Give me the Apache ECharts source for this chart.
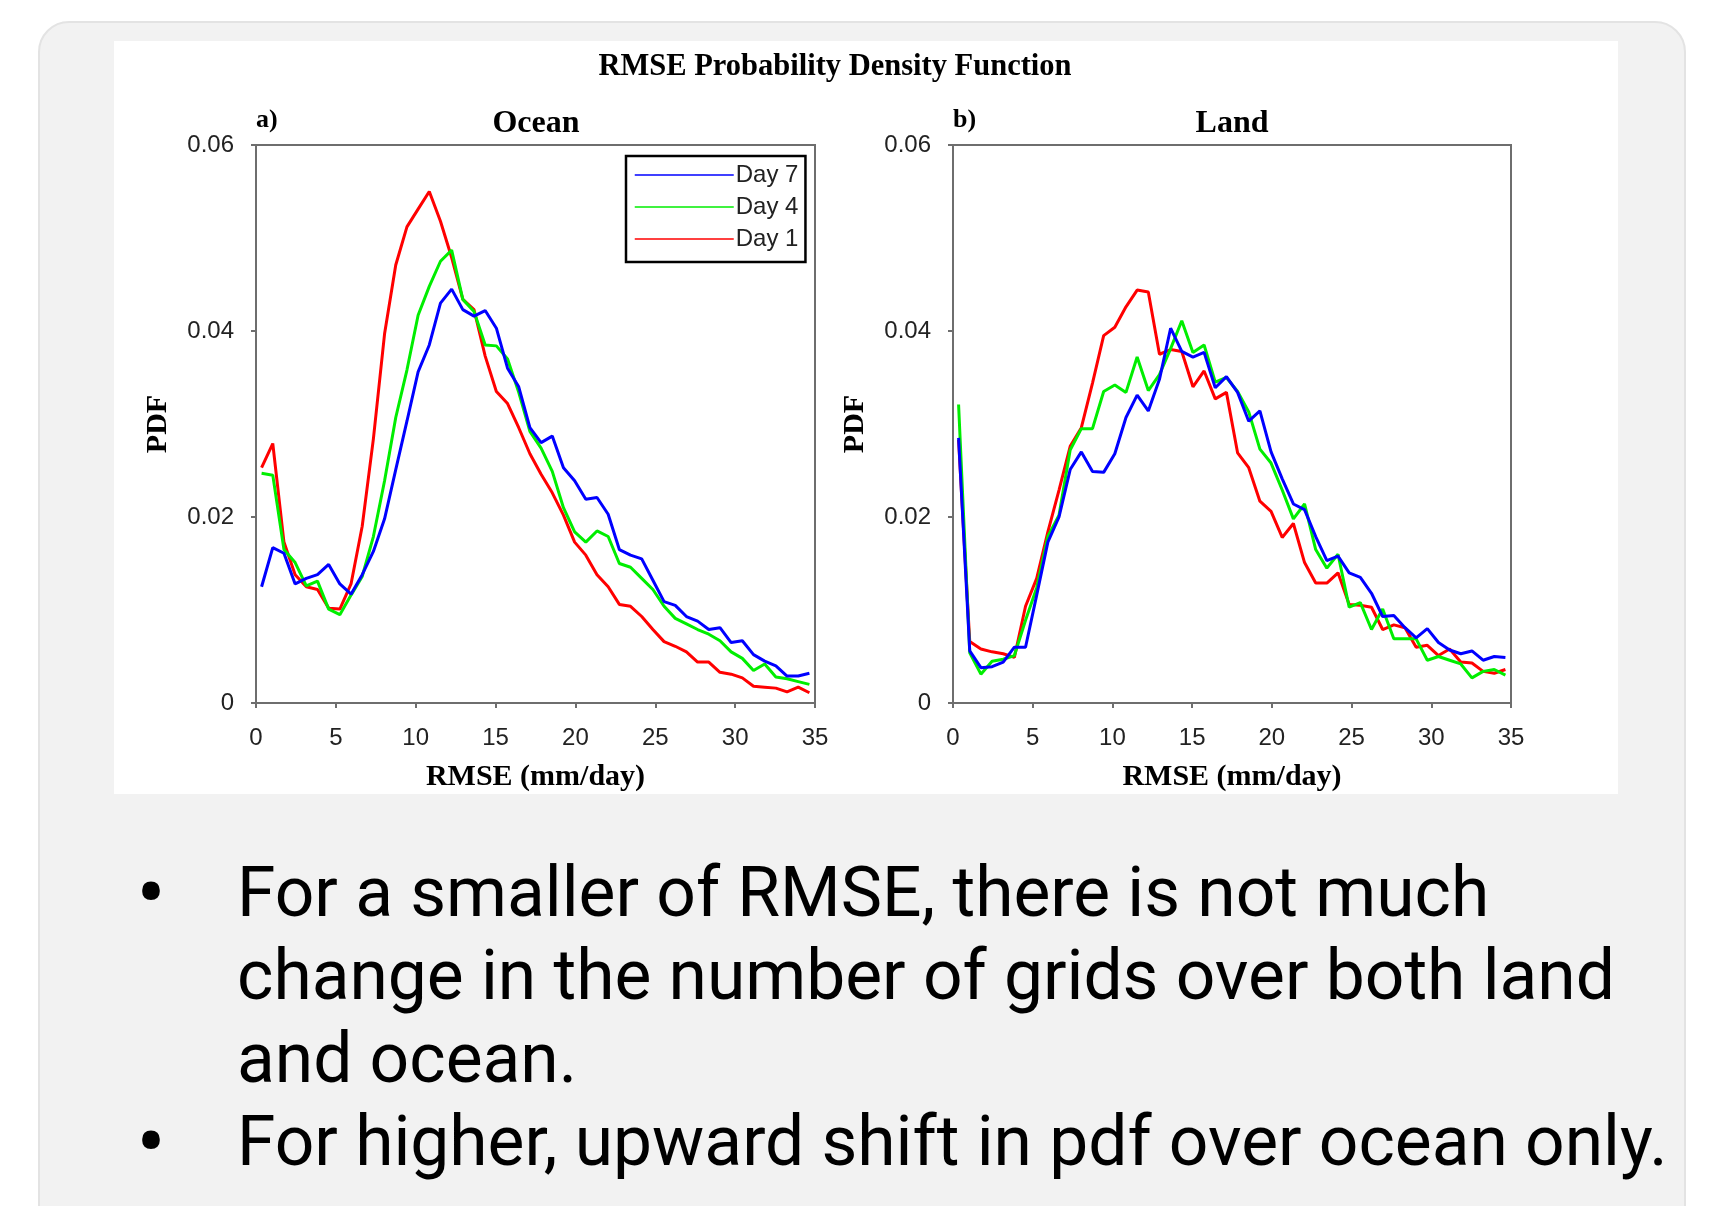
<!DOCTYPE html>
<html>
<head>
<meta charset="utf-8">
<script src="https://cdn.jsdelivr.net/npm/echarts@6/dist/echarts.min.js"></script>
<style>
  html, body { margin: 0; padding: 0; background: #fff; }
  #chart { width: 1729px; height: 1206px; }
</style>
</head>
<body>
<div id="chart"></div>
<script>
// bin centres (mm/day)
var rmse = [0.35, 1.05, 1.75, 2.45, 3.15, 3.85, 4.55, 5.25, 5.95, 6.65,
    7.35, 8.05, 8.75, 9.45, 10.15, 10.85, 11.55, 12.25, 12.95, 13.65,
    14.35, 15.05, 15.75, 16.45, 17.15, 17.85, 18.55, 19.25, 19.95, 20.65,
    21.35, 22.05, 22.75, 23.45, 24.15, 24.85, 25.55, 26.25, 26.95, 27.65,
    28.35, 29.05, 29.75, 30.45, 31.15, 31.85, 32.55, 33.25, 33.95, 34.65]

// Ocean
var oceanDay1 = [0.0253, 0.0279, 0.0173, 0.0138, 0.0125, 0.0122, 0.0102, 0.0101, 0.0128, 0.0190,
    0.0284, 0.0397, 0.0471, 0.0512, 0.0531, 0.0550, 0.0518, 0.0479, 0.0434, 0.0423,
    0.0373, 0.0335, 0.0322, 0.0296, 0.0268, 0.0246, 0.0226, 0.0202, 0.0173, 0.0159,
    0.0138, 0.0125, 0.0106, 0.0104, 0.0093, 0.0079, 0.0066, 0.0061, 0.0055, 0.0044,
    0.0044, 0.0033, 0.0031, 0.0027, 0.0018, 0.0017, 0.0016, 0.0012, 0.0017, 0.0011]
var oceanDay4 = [0.0247, 0.0245, 0.0165, 0.0151, 0.0126, 0.0131, 0.0101, 0.0095, 0.0116, 0.0136,
    0.0179, 0.0239, 0.0307, 0.0358, 0.0417, 0.0448, 0.0475, 0.0487, 0.0434, 0.0421,
    0.0385, 0.0384, 0.0370, 0.0334, 0.0292, 0.0274, 0.0249, 0.0210, 0.0184, 0.0173,
    0.0185, 0.0179, 0.0150, 0.0146, 0.0134, 0.0122, 0.0104, 0.0091, 0.0085, 0.0079,
    0.0074, 0.0067, 0.0055, 0.0048, 0.0035, 0.0042, 0.0028, 0.0026, 0.0023, 0.0020]
var oceanDay7 = [0.0125, 0.0167, 0.0161, 0.0128, 0.0134, 0.0138, 0.0149, 0.0128, 0.0117, 0.0138,
    0.0163, 0.0198, 0.0251, 0.0303, 0.0356, 0.0385, 0.0430, 0.0445, 0.0423, 0.0416,
    0.0422, 0.0403, 0.0360, 0.0340, 0.0296, 0.0280, 0.0287, 0.0253, 0.0239, 0.0219,
    0.0221, 0.0203, 0.0165, 0.0159, 0.0155, 0.0132, 0.0109, 0.0105, 0.0093, 0.0088,
    0.0079, 0.0081, 0.0065, 0.0067, 0.0052, 0.0045, 0.0040, 0.0029, 0.0029, 0.0032]

// Land
var landDay1 = [0.0283, 0.0066, 0.0058, 0.0055, 0.0053, 0.0049, 0.0104, 0.0134, 0.0184, 0.0229,
    0.0276, 0.0296, 0.0344, 0.0395, 0.0404, 0.0426, 0.0444, 0.0442, 0.0375, 0.0380,
    0.0378, 0.0340, 0.0357, 0.0327, 0.0334, 0.0269, 0.0253, 0.0217, 0.0206, 0.0178,
    0.0193, 0.0151, 0.0129, 0.0129, 0.0140, 0.0106, 0.0105, 0.0103, 0.0079, 0.0084,
    0.0081, 0.0060, 0.0062, 0.0051, 0.0058, 0.0044, 0.0043, 0.0034, 0.0032, 0.0036]
var landDay4 = [0.0321, 0.0054, 0.0031, 0.0045, 0.0047, 0.0051, 0.0089, 0.0124, 0.0179, 0.0202,
    0.0272, 0.0295, 0.0295, 0.0335, 0.0342, 0.0334, 0.0372, 0.0336, 0.0353, 0.0381,
    0.0411, 0.0377, 0.0385, 0.0345, 0.0350, 0.0335, 0.0313, 0.0273, 0.0258, 0.0229,
    0.0198, 0.0214, 0.0165, 0.0145, 0.0160, 0.0103, 0.0108, 0.0079, 0.0101, 0.0069,
    0.0069, 0.0069, 0.0046, 0.0050, 0.0046, 0.0042, 0.0027, 0.0034, 0.0036, 0.0030]
var landDay7 = [0.0285, 0.0056, 0.0038, 0.0039, 0.0044, 0.0060, 0.0060, 0.0116, 0.0173, 0.0200,
    0.0251, 0.0270, 0.0249, 0.0248, 0.0268, 0.0307, 0.0331, 0.0314, 0.0348, 0.0403,
    0.0378, 0.0372, 0.0377, 0.0339, 0.0351, 0.0334, 0.0303, 0.0314, 0.0270, 0.0241,
    0.0214, 0.0208, 0.0179, 0.0153, 0.0158, 0.0140, 0.0135, 0.0118, 0.0093, 0.0094,
    0.0081, 0.0070, 0.0080, 0.0065, 0.0057, 0.0053, 0.0056, 0.0046, 0.0050, 0.0049]

var dayNames = ['Day 7', 'Day 4', 'Day 1']
var dayColors = { 'Day 7': '#0000ff', 'Day 4': '#00ee00', 'Day 1': '#ff0000' }
var xTicks = [0, 35, 5]      // min, max, step
var yTicks = [0, 0.06, 0.02]

var bullets = [
    ['•', 'For a smaller of RMSE, there is not much'],
    ['', 'change in the number of grids over both land'],
    ['', 'and ocean.'],
    ['•', 'For higher, upward shift in pdf over ocean only.']
]

function pairs(vals) {
    return vals.map(function (v, i) { return [rmse[i], v] })
}

var serif = '"Liberation Serif", "Times New Roman", serif'
var sans = '"Liberation Sans", Arial, sans-serif'
var axisColor = '#6e6e6e'

function makeX(idx) {
    return {
        type: 'value', gridIndex: idx,
        min: xTicks[0], max: xTicks[1], interval: xTicks[2],
        axisLine: { show: true, onZero: false, lineStyle: { color: axisColor, width: 2 } },
        axisTick: { show: true, length: 5, lineStyle: { color: axisColor, width: 2 } },
        axisLabel: { fontSize: 24, color: '#222', fontFamily: sans, margin: 23 },
        splitLine: { show: false },
        name: 'RMSE (mm/day)', nameLocation: 'middle', nameGap: 59,
        nameTextStyle: { fontFamily: serif, fontWeight: 'bold', fontSize: 30, color: '#000' }
    }
}
function makeY(idx) {
    return {
        type: 'value', gridIndex: idx,
        min: yTicks[0], max: yTicks[1], interval: yTicks[2],
        axisLine: { show: true, lineStyle: { color: axisColor, width: 2 } },
        axisTick: { show: true, length: 5, lineStyle: { color: axisColor, width: 2 } },
        axisLabel: {
            fontSize: 24, color: '#222', fontFamily: sans, margin: 22,
            formatter: function (v) { return v === 0 ? '0' : v.toFixed(2) }
        },
        splitLine: { show: false },
        name: 'PDF', nameLocation: 'middle', nameGap: 83,
        nameTextStyle: { fontFamily: serif, fontWeight: 'bold', fontSize: 30, color: '#000' }
    }
}

function makeLine(name, vals, idx) {
    return {
        name: name, type: 'line', xAxisIndex: idx, yAxisIndex: idx,
        data: pairs(vals), symbol: 'none', color: dayColors[name],
        lineStyle: { width: 3, color: dayColors[name] },
        animation: false
    }
}

var chart = echarts.init(document.getElementById('chart'))

var textItems = []
bullets.forEach(function (b, i) {
    var y = 899 + i * 83
    if (b[0]) {
        textItems.push({
            type: 'text', x: 151, y: y + 2, z: 10,
            style: { text: b[0], font: '88px Roboto', fill: '#000', textAlign: 'center', textVerticalAlign: 'middle' }
        })
    }
    textItems.push({
        type: 'text', x: 237, y: y, z: 10,
        style: { text: b[1], font: '69.5px Roboto', fill: '#000', textAlign: 'left', textVerticalAlign: 'middle' }
    })
})

var option = {
    backgroundColor: '#ffffff',
    animation: false,
    graphic: [
        {
            type: 'rect', z: -10, shape: { x: 39, y: 22, width: 1646, height: 1260, r: 30 },
            style: { fill: '#f2f2f2', stroke: '#e3e3e3', lineWidth: 2 }
        },
        {
            type: 'rect', z: -9, shape: { x: 114, y: 41, width: 1504, height: 753 },
            style: { fill: '#ffffff' }
        },
        {
            type: 'text', x: 835, y: 67, z: 10,
            style: { text: 'RMSE Probability Density Function', font: 'bold 30.5px ' + serif, fill: '#000', textAlign: 'center', textVerticalAlign: 'middle' }
        },
        {
            type: 'text', x: 536, y: 124, z: 10,
            style: { text: 'Ocean', font: 'bold 32px ' + serif, fill: '#000', textAlign: 'center', textVerticalAlign: 'middle' }
        },
        {
            type: 'text', x: 1232, y: 124, z: 10,
            style: { text: 'Land', font: 'bold 32px ' + serif, fill: '#000', textAlign: 'center', textVerticalAlign: 'middle' }
        },
        {
            type: 'text', x: 256, y: 120, z: 10,
            style: { text: 'a)', font: 'bold 26px ' + serif, fill: '#000', textAlign: 'left', textVerticalAlign: 'middle' }
        },
        {
            type: 'text', x: 953, y: 120, z: 10,
            style: { text: 'b)', font: 'bold 26px ' + serif, fill: '#000', textAlign: 'left', textVerticalAlign: 'middle' }
        }
    ].concat(textItems),
    legend: {
        data: dayNames,
        orient: 'vertical',
        left: 626, top: 156,
        itemWidth: 99, itemHeight: 24, itemGap: 8,
        padding: [7, 7, 11, 8],
        borderColor: '#000', borderWidth: 2.5,
        backgroundColor: '#fff',
        itemStyle: { opacity: 0 },
        lineStyle: { width: 1.5 },
        textStyle: { fontSize: 24, fontFamily: sans, color: '#222', padding: [0, 0, 0, -3] }
    },
    grid: [
        { left: 256, top: 145, width: 559, height: 558, show: true, borderColor: axisColor, borderWidth: 2, backgroundColor: '#fff' },
        { left: 953, top: 145, width: 558, height: 558, show: true, borderColor: axisColor, borderWidth: 2, backgroundColor: '#fff' }
    ],
    xAxis: [makeX(0), makeX(1)],
    yAxis: [makeY(0), makeY(1)],
    series: [
        makeLine('Day 1', oceanDay1, 0),
        makeLine('Day 4', oceanDay4, 0),
        makeLine('Day 7', oceanDay7, 0),
        makeLine('Day 1', landDay1, 1),
        makeLine('Day 4', landDay4, 1),
        makeLine('Day 7', landDay7, 1)
    ]
}

chart.setOption(option)
</script>
</body>
</html>
